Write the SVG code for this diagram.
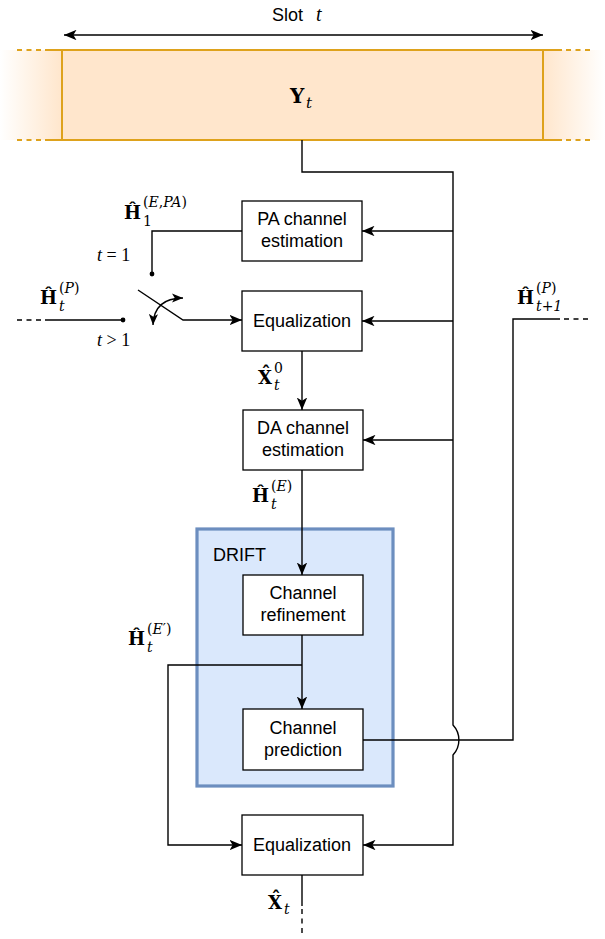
<svg xmlns="http://www.w3.org/2000/svg" width="605" height="939" viewBox="0 0 605 939">
  <style>
    .box { fill: #ffffff; stroke: #000000; stroke-width: 1.3; }
    .lbl { font-family: "Liberation Sans", Arial, sans-serif; font-size: 18px; fill: #000; text-anchor: middle; }
    .wire { fill: none; stroke: #000; stroke-width: 1.4; }
    .dash { fill: none; stroke: #000; stroke-width: 1.4; stroke-dasharray: 5 4.5; }
    .orange { fill: none; stroke: #dea21c; stroke-width: 2; }
    .orange-dash { fill: none; stroke: #dea21c; stroke-width: 2; stroke-dasharray: 5 4.5; }
    .mb { font-family: "DejaVu Serif", "Liberation Serif", serif; font-weight: bold; font-size: 18px; fill: #000; }
    .mi { font-family: "DejaVu Serif", "Liberation Serif", serif; font-style: italic; font-size: 14px; fill: #000; }
    .mr { font-family: "DejaVu Serif", "Liberation Serif", serif; font-size: 14px; fill: #000; }
    .cond { font-family: "Liberation Serif", "Times New Roman", serif; font-size: 18px; fill: #000; }
    .arrow { marker-end: url(#arr); }
  </style>
  <defs>
    <marker id="arr" viewBox="0 0 12 10" refX="12" refY="5" markerWidth="12.5" markerHeight="10.5" markerUnits="userSpaceOnUse" orient="auto-start-reverse">
      <path d="M0,0 L12,5 L0,10 L3,5 Z" fill="#000"/>
    </marker>
    <marker id="arrs" viewBox="0 0 12 10" refX="12" refY="5" markerWidth="11" markerHeight="9.5" markerUnits="userSpaceOnUse" orient="auto-start-reverse">
      <path d="M0,0 L12,5 L0,10 L3,5 Z" fill="#000"/>
    </marker>
    <linearGradient id="fadeL" x1="0" y1="0" x2="1" y2="0">
      <stop offset="0" stop-color="#ffe6cc" stop-opacity="0"/>
      <stop offset="1" stop-color="#ffe6cc" stop-opacity="1"/>
    </linearGradient>
    <linearGradient id="fadeR" x1="0" y1="0" x2="1" y2="0">
      <stop offset="0" stop-color="#ffe6cc" stop-opacity="1"/>
      <stop offset="1" stop-color="#ffe6cc" stop-opacity="0"/>
    </linearGradient>
  </defs>

  <!-- received slot with fading neighbours -->
  <g id="slot">
    <rect x="0" y="50" width="62" height="90" fill="url(#fadeL)"/>
    <rect x="543" y="50" width="62" height="90" fill="url(#fadeR)"/>
    <rect x="62" y="50" width="481" height="90" fill="#ffe6cc"/>
    <path class="orange" d="M45,50 H562 M45,140 H562 M62,50 V140 M543,50 V140"/>
    <path class="orange-dash" d="M17,50 H45 M17,140 H45 M566,50 H592 M566,140 H592"/>
    <text class="mb" x="290" y="103" style="font-size:20px">Y</text>
    <text class="mi" x="306" y="108" style="font-size:15px">t</text>
  </g>

  <g id="slot-label">
    <text x="272" y="21" font-family="Liberation Sans, Arial, sans-serif" font-size="18">Slot</text>
    <text x="316" y="21" font-family="Liberation Serif, serif" font-style="italic" font-size="20">t</text>
  </g>

  <!-- DRIFT container -->
  <g id="drift">
    <rect x="197" y="529" width="196" height="257" fill="#dae8fc" stroke="#6c8ebf" stroke-width="3.2"/>
    <text x="213" y="561" font-family="Liberation Sans, Arial, sans-serif" font-size="18">DRIFT</text>
  </g>

  <!-- connectors -->
  <g id="connectors">
    <line class="wire" x1="64" y1="35" x2="543" y2="35" marker-start="url(#arr)" marker-end="url(#arr)"/>
    <path class="wire arrow" d="M302,140 V172 H453 V725 A22,22 0 0 1 453,755 V845 H363"/>
    <path class="wire arrow" d="M453,231 H362"/>
    <path class="wire arrow" d="M453,321 H362"/>
    <path class="wire arrow" d="M453,440 H363"/>
    <path class="wire arrow" d="M302,350 V410"/>
    <path class="wire arrow" d="M302,470 V575"/>
    <path class="wire arrow" d="M302,635 V709"/>
    <path class="wire arrow" d="M302,665 H168 V845 H242"/>
    <path class="wire" d="M363,740 H513 V319 H560"/>
    <path class="dash" d="M564,319 H592"/>
    <path class="wire" d="M242,231 H152 V274"/>
    <circle cx="152" cy="274" r="2.4" fill="#000"/>
    <path class="dash" d="M17,320 H45"/>
    <path class="wire" d="M45,320 H123"/>
    <circle cx="123" cy="320" r="2.4" fill="#000"/>
    <path class="wire arrow" d="M138,290 L183,320 H242"/>
    <path class="wire" d="M153,325 Q154,298 183,298" marker-start="url(#arrs)" marker-end="url(#arrs)"/>
    <path class="wire" d="M302,875 V906"/>
    <path class="dash" d="M302,909 V936"/>
  </g>

  <!-- processing blocks -->
  <g id="pa-est">
    <rect class="box" x="242" y="201" width="120" height="60"/>
    <text class="lbl" x="302" y="225">PA channel</text>
    <text class="lbl" x="302" y="247">estimation</text>
  </g>
  <g id="equalization-1">
    <rect class="box" x="242" y="291" width="120" height="60"/>
    <text class="lbl" x="302" y="327">Equalization</text>
  </g>
  <g id="da-est">
    <rect class="box" x="243" y="410" width="120" height="60"/>
    <text class="lbl" x="303" y="434">DA channel</text>
    <text class="lbl" x="303" y="456">estimation</text>
  </g>
  <g id="refinement">
    <rect class="box" x="243" y="575" width="120" height="60"/>
    <text class="lbl" x="303" y="599">Channel</text>
    <text class="lbl" x="303" y="621">refinement</text>
  </g>
  <g id="prediction">
    <rect class="box" x="243" y="709" width="120" height="61"/>
    <text class="lbl" x="303" y="734">Channel</text>
    <text class="lbl" x="303" y="756">prediction</text>
  </g>
  <g id="equalization-2">
    <rect class="box" x="242" y="815" width="121" height="60"/>
    <text class="lbl" x="302" y="851">Equalization</text>
  </g>

  <!-- signal labels -->
  <g id="labels">
    <text class="mb" x="124" y="219">Ĥ</text>
    <text class="mr" x="143" y="207">(<tspan class="mi">E</tspan>,<tspan class="mi">PA</tspan>)</text>
    <text class="mr" x="143" y="226">1</text>

    <text class="cond" x="97" y="261"><tspan font-style="italic">t</tspan> = 1</text>
    <text class="cond" x="97" y="346"><tspan font-style="italic">t</tspan> &gt; 1</text>

    <text class="mb" x="40" y="304">Ĥ</text>
    <text class="mr" x="59" y="293">(<tspan class="mi">P</tspan>)</text>
    <text class="mi" x="59" y="311">t</text>

    <text class="mb" x="517" y="304">Ĥ</text>
    <text class="mr" x="536" y="293">(<tspan class="mi">P</tspan>)</text>
    <text class="mi" x="536" y="311">t<tspan class="mr">+1</tspan></text>

    <!-- X with a circumflex set back over it -->
    <text class="mb" x="258" y="384">X<tspan dx="-10.5" dy="-4">ˆ</tspan></text>
    <text class="mr" x="274" y="373">0</text>
    <text class="mi" x="274" y="390">t</text>

    <text class="mb" x="252" y="502">Ĥ</text>
    <text class="mr" x="271" y="491">(<tspan class="mi">E</tspan>)</text>
    <text class="mi" x="271" y="509">t</text>

    <text class="mb" x="128" y="645">Ĥ</text>
    <text class="mr" x="147" y="634">(<tspan class="mi">E</tspan>′)</text>
    <text class="mi" x="147" y="652">t</text>

    <text class="mb" x="268" y="909">X<tspan dx="-10.5" dy="-4">ˆ</tspan></text>
    <text class="mi" x="284" y="914">t</text>
  </g>
</svg>
